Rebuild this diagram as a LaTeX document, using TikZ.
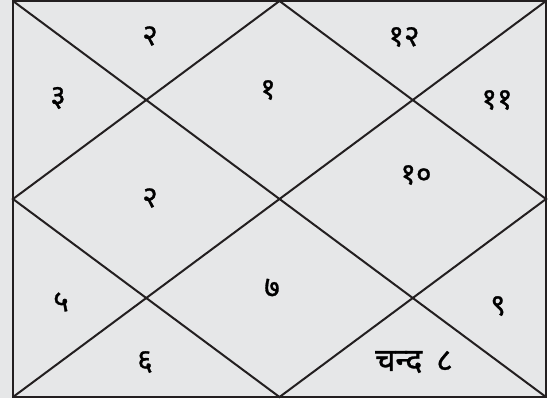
\documentclass[tikz,border=0pt]{standalone}
\usepackage{fontspec}
\newfontfamily\devfont[Script=Devanagari,FakeBold=1]{Noto Sans}
\definecolor{chartgray}{HTML}{E6E7E8}
\definecolor{chartline}{HTML}{231F20}
\begin{document}
\begin{tikzpicture}[x=1bp,y=-1bp,line/.style={draw=chartline,line width=2bp},house/.style={font=\devfont\fontsize{30}{30}\selectfont,inner sep=0pt}]
\useasboundingbox (0,0) rectangle (552,403);
\fill[white] (0,0) rectangle (552,403);
\fill[chartgray] (0,0) rectangle (547,398);
\coordinate (tl) at (13,1);\coordinate (tr) at (546,1);
\coordinate (br) at (546,397);\coordinate (bl) at (13,397);
\coordinate (t) at (279.5,1);\coordinate (r) at (546,199);
\coordinate (b) at (279.5,397);\coordinate (l) at (13,199);
\draw[line] (tl)--(tr)--(br)--(bl)--cycle;
\draw[line] (tl)--(br) (tr)--(bl);
\draw[line] (t)--(r)--(b)--(l)--cycle;
\foreach \x/\y/\n in {268/90/h1,150/36/h2,58/98/h3,150/198/h4,61/302/h5,145/362/h6,272/288/h7,498/306/h9,416/175/h10,497/100/h11,404/37/h12}{
\node[house] (\n) at (\x,\y) {};}
\node[house] at (h1) {१};\node[house] at (h2) {२};\node[house] at (h3) {३};
\node[house] at (h4) {२};\node[house] at (h5) {५};\node[house] at (h6) {६};
\node[house] at (h7) {७};\node[house] at (h9) {९};\node[house] at (h10) {१०};
\node[house] at (h11) {११};\node[house] at (h12) {१२};
\node[house,font=\devfont\fontsize{32}{32}\selectfont] (h8) at (414,362) {चन्द\hspace{14bp}८};
\end{tikzpicture}
\end{document}
